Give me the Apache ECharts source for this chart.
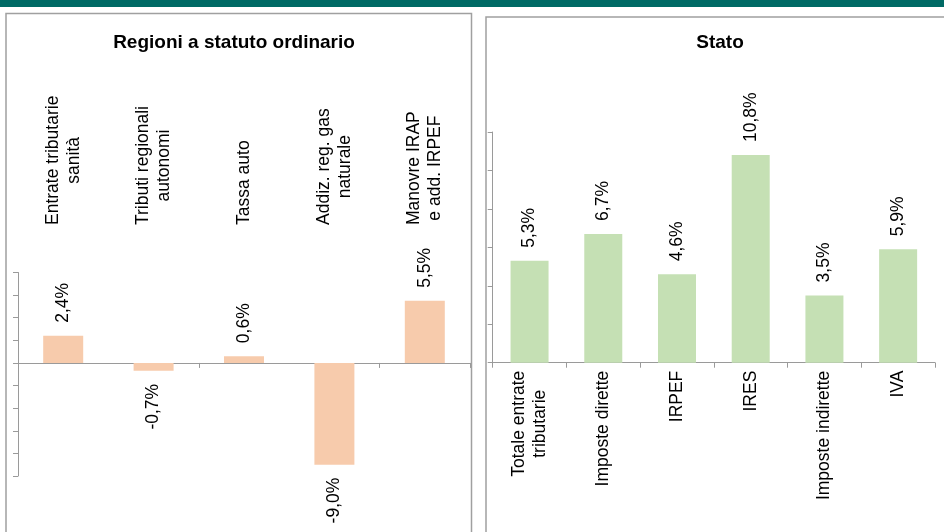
<!DOCTYPE html>
<html style="height: 100%">
<head>
    <meta charset="utf-8">
    <title>Entrate tributarie</title>
</head>
<body style="height: 100%; margin: 0; background: #fff">
    <div id="chart" style="width: 944px; height: 532px;"></div>

    <script src="https://cdn.jsdelivr.net/npm/echarts@6/dist/echarts.min.js"></script>

    <script type="text/javascript">
    // dati
    var regCategories = ['Entrate tributarie\nsanità', 'Tributi regionali\nautonomi', 'Tassa auto', 'Addiz. reg. gas\nnaturale', 'Manovre IRAP\ne add. IRPEF'];
    var regValues = [2.4, -0.7, 0.6, -9.0, 5.5];

    var statoCategories = ['Totale entrate\ntributarie', 'Imposte dirette', 'IRPEF', 'IRES', 'Imposte indirette', 'IVA'];
    var statoValues = [5.3, 6.7, 4.6, 10.8, 3.5, 5.9];

    var FONT = 'Liberation Sans';
    var AXIS_COLOR = '#9a9a9a';

    function pct(v) {
        return v.toFixed(1).replace('.', ',') + '%';
    }

    // ogni riga centrata rispetto alle altre
    function centerLines(v) {
        return v.split('\n').map(function (s) { return '{c|' + s + '}'; }).join('\n');
    }

    var richCenter = {
        c: { align: 'center', fontSize: 17.5, lineHeight: 21, fontFamily: FONT, color: '#000' }
    };

    function barData(values) {
        return values.map(function (v) {
            return {
                value: v,
                label: {
                    show: true,
                    position: v >= 0 ? 'top' : 'bottom',
                    rotate: 90,
                    align: v >= 0 ? 'left' : 'right',
                    verticalAlign: 'middle',
                    distance: 13,
                    fontSize: 17.5,
                    fontFamily: FONT,
                    color: '#000',
                    formatter: function (p) { return pct(p.value); }
                }
            };
        });
    }

    var valueAxisBase = {
        type: 'value',
        interval: 2,
        axisLine: { show: true, lineStyle: { color: AXIS_COLOR } },
        axisTick: { show: true, length: 5, lineStyle: { color: AXIS_COLOR } },
        axisLabel: { show: false },
        splitLine: { show: false }
    };

    var option = {
        backgroundColor: '#fff',
        animation: false,
        title: [
            {
                text: 'Regioni a statuto ordinario',
                left: 234, top: 33, textAlign: 'center', padding: 0,
                textStyle: { fontFamily: FONT, fontSize: 19, fontWeight: 'bold', color: '#000' }
            },
            {
                text: 'Stato',
                left: 720, top: 33, textAlign: 'center', padding: 0,
                textStyle: { fontFamily: FONT, fontSize: 19, fontWeight: 'bold', color: '#000' }
            }
        ],
        graphic: [
            { type: 'rect', z: -10, shape: { x: 0, y: 0, width: 944, height: 7 }, style: { fill: '#006a65' } },
            { type: 'rect', z: -10, shape: { x: 6, y: 13.5, width: 465.5, height: 540 }, style: { fill: 'rgba(0,0,0,0)', stroke: '#a0a0a0', lineWidth: 1.5 } },
            { type: 'rect', z: -10, shape: { x: 486, y: 17, width: 470, height: 540 }, style: { fill: 'rgba(0,0,0,0)', stroke: '#a0a0a0', lineWidth: 1.5 } }
        ],
        grid: [
            { left: 18, top: 272.5, width: 452, height: 203.5, outerBoundsMode: 'none' },
            { left: 492.7, top: 132, width: 442.3, height: 230.7, outerBoundsMode: 'none' }
        ],
        xAxis: [
            {
                type: 'category', gridIndex: 0, data: regCategories,
                axisLine: { onZero: true, lineStyle: { color: AXIS_COLOR } },
                axisTick: { show: true, length: 5, lineStyle: { color: AXIS_COLOR } },
                axisLabel: { show: false }
            },
            {
                type: 'category', gridIndex: 0, position: 'top', offset: 39.5, data: regCategories,
                axisLine: { show: false },
                axisTick: { show: false },
                axisLabel: { rotate: -90, margin: 8, interval: 0, formatter: centerLines, rich: richCenter }
            },
            {
                type: 'category', gridIndex: 1, data: statoCategories,
                axisLine: { lineStyle: { color: AXIS_COLOR } },
                axisTick: { show: true, length: 5, lineStyle: { color: AXIS_COLOR } },
                axisLabel: { rotate: 90, margin: 8, interval: 0, formatter: centerLines, rich: richCenter }
            }
        ],
        yAxis: [
            Object.assign({ gridIndex: 0, min: -10, max: 8 }, valueAxisBase),
            Object.assign({ gridIndex: 1, min: 0, max: 12 }, valueAxisBase)
        ],
        series: [
            {
                type: 'bar', xAxisIndex: 0, yAxisIndex: 0,
                barWidth: 40,
                itemStyle: { color: '#f7cbac' },
                data: barData(regValues)
            },
            {
                type: 'bar', xAxisIndex: 2, yAxisIndex: 1,
                barWidth: 38,
                itemStyle: { color: '#c5e0b4' },
                data: barData(statoValues)
            }
        ]
    };

    var myChart = echarts.init(document.getElementById('chart'));
    myChart.setOption(option);
    </script>
</body>
</html>
